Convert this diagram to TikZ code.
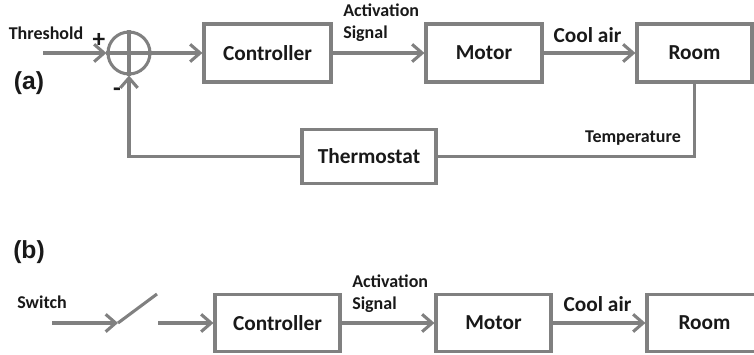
\documentclass[tikz,border=0pt]{standalone}
\usepackage{fontspec}
\setmainfont{Carlito}
\newfontfamily\tagfont{Liberation Sans}
\usetikzlibrary{arrows.meta}
\definecolor{linegray}{RGB}{128,128,128}
\definecolor{txtgray}{RGB}{25,25,25}
\tikzset{
  block/.style={draw=linegray, line width=2.3pt, fill=white, minimum height=43.5pt,
    inner sep=0pt, text=txtgray, font=\bfseries\fontsize{16}{18}\selectfont},
  lbl/.style={inner sep=0pt, text=txtgray, font=\bfseries\fontsize{13.5}{16.5}\selectfont},
  midlbl/.style={inner sep=0pt, text=txtgray, font=\bfseries\fontsize{16}{18}\selectfont},
  sign/.style={inner sep=0pt, text=txtgray, font=\bfseries\fontsize{19}{20}\selectfont},
  tag/.style={inner sep=0pt, text=txtgray, font=\tagfont\bfseries\fontsize{18.5}{20}\selectfont},
  sumnode/.style={circle, draw=linegray, line width=2.3pt, minimum size=31.5pt, inner sep=0pt},
  wire/.style={draw=linegray, line width=2.3pt},
  arr/.style={wire, -{Straight Barb[length=7.5pt,width=13pt]}},
}
\begin{document}
\begin{tikzpicture}[x=0.75pt, y=-0.75pt]
  \useasboundingbox (0,0) rectangle (754,354);
  % (a) closed loop
  \node[tag] (tagA) at (29,83) {(a)};
  \node[lbl] (thLbl) at (46,33) {Threshold};
  \coordinate (thIn) at (43,53);
  \node[sumnode] (sum) at (129,53) {};
  \draw[wire] (sum.north) -- (sum.south) (sum.west) -- (sum.east);
  \node[sign] (plus) at (99,40) {+};
  \node[sign] (minus) at (117,92) {-};
  \node[block, minimum width=95.25pt] (ctrlA) at (267.5,53) {Controller};
  \node[block, minimum width=87pt] (motorA) at (484,53) {Motor};
  \node[block, minimum width=86.25pt] (roomA) at (694.5,53) {Room};
  \node[block, minimum width=100.5pt, minimum height=40.5pt] (thermo) at (369,156.5) {Thermostat};
  \draw[arr] (thIn) -- (sum.west);
  \draw[arr] (sum.east) -- (ctrlA.west);
  \draw[arr] (ctrlA) -- (motorA);
  \draw[arr] (motorA) -- (roomA);
  \draw[wire] (roomA.south) |- (thermo.east);
  \draw[arr] (thermo.west) -| (sum.south);
  \node[lbl, align=left, anchor=west] (actA) at (343,23) {Activation\\Signal};
  \node[midlbl] (coolA) at (587.5,35) {Cool air};
  \node[lbl] (tempLbl) at (633,138) {Temperature};
  % (b) open loop
  \node[tag] (tagB) at (29,252) {(b)};
  \node[lbl] (swLbl) at (42,302) {Switch};
  \coordinate (swIn) at (52,323);
  \coordinate (swA) at (118,323);
  \coordinate (swB) at (157,294);
  \coordinate (swC) at (158,323);
  \node[block, minimum width=93.75pt, minimum height=43pt] (ctrlB) at (277.5,323) {Controller};
  \node[block, minimum width=86.25pt, minimum height=43pt] (motorB) at (493.5,323) {Motor};
  \node[block, minimum width=86.25pt, minimum height=43pt] (roomB) at (704.5,323) {Room};
  \draw[arr] (swIn) -- (swA);
  \draw[wire] (swA) -- (swB);
  \draw[arr] (swC) -- (ctrlB);
  \draw[arr] (ctrlB) -- (motorB);
  \draw[arr] (motorB) -- (roomB);
  \node[lbl, align=left, anchor=west] (actB) at (352,294) {Activation\\Signal};
  \node[midlbl] (coolB) at (597.5,304) {Cool air};
\end{tikzpicture}
\end{document}
